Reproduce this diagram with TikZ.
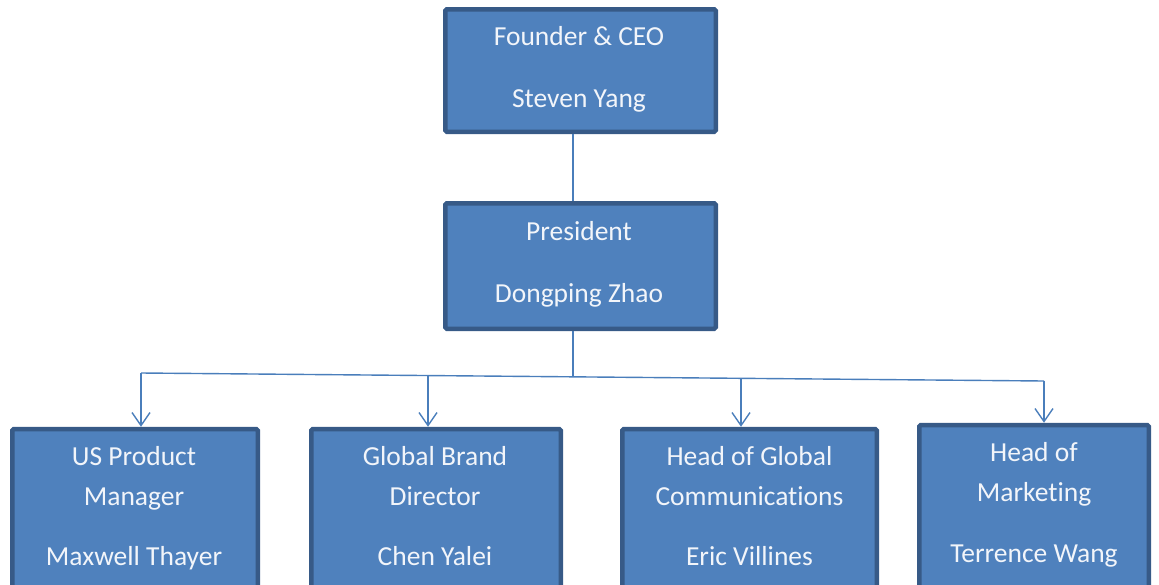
\documentclass[tikz,border=0pt]{standalone}
\usepackage{fontspec}
\setmainfont{Carlito}[Ligatures=NoCommon]
\usetikzlibrary{arrows.meta}
\definecolor{boxfill}{HTML}{4F81BD}
\definecolor{boxline}{HTML}{375A87}
\definecolor{conn}{HTML}{4A7EBB}
\definecolor{txt}{HTML}{F2F5FA}
\tikzset{
  orgbox/.style={draw=boxline, fill=boxfill, line width=4.5pt, rounded corners=1.5pt, inner sep=0pt},
  lbl/.style={text=txt, font=\fontsize{27.5}{30}\selectfont, inner sep=0pt, anchor=base},
  link/.style={draw=conn, line width=1.4pt},
  arr/.style={link, -{Straight Barb[length=13pt,width=18pt,line width=1.4pt]}}
}
\begin{document}
\begin{tikzpicture}[x=1pt,y=-1pt]
\useasboundingbox (0,0) rectangle (1159,584);
\clip (0,0) rectangle (1159,584);
% boxes
\node[orgbox, minimum width=270.5pt, minimum height=122.5pt] (ceo) at (580.5,70.5) {};
\node[orgbox, minimum width=270.5pt, minimum height=125.5pt] (pres) at (580.5,266) {};
\node[orgbox, minimum width=245.5pt, minimum height=196pt] (us) at (135,527) {};
\node[orgbox, minimum width=249.5pt, minimum height=196pt] (gb) at (436,527) {};
\node[orgbox, minimum width=254.5pt, minimum height=196pt] (hg) at (749.5,527) {};
\node[orgbox, minimum width=229.5pt, minimum height=196pt] (hm) at (1034,523) {};
% texts
\node[lbl] (ceo1) at (579,45) {Founder \& CEO};
\node[lbl] (ceo2) at (579,107) {Steven Yang};
\node[lbl] (pres1) at (579,240) {President};
\node[lbl] (pres2) at (579,302) {Dongping Zhao};
\node[lbl] (us1) at (134,465) {US Product};
\node[lbl] (us2) at (134,505) {Manager};
\node[lbl] (us3) at (134,565) {Maxwell Thayer};
\node[lbl] (gb1) at (435,465) {Global Brand};
\node[lbl] (gb2) at (435,505) {Director};
\node[lbl] (gb3) at (435,565) {Chen Yalei};
\node[lbl] (hg1) at (749.5,465) {Head of Global};
\node[lbl] (hg2) at (749.5,505) {Communications};
\node[lbl] (hg3) at (749.5,565) {Eric Villines};
\node[lbl] (hm1) at (1034,461) {Head of};
\node[lbl] (hm2) at (1034,501) {Marketing};
\node[lbl] (hm3) at (1034,562) {Terrence Wang};
% bus coordinates
\coordinate (bL) at (141,373);
\coordinate (bR) at (1044,381);
\coordinate (bP) at (573,376.8);
\coordinate (b2) at (428,375.5);
\coordinate (b3) at (741,378.3);
% connectors
\draw[link] (ceo.south -| bP) -- (pres.north -| bP);
\draw[link] (pres.south -| bP) -- (bP);
\draw[link] (bL) -- (bR);
\draw[arr] (bL) -- (bL |- us.north);
\draw[arr] (b2) -- (b2 |- gb.north);
\draw[arr] (b3) -- (b3 |- hg.north);
\draw[arr] (bR) -- (bR |- hm.north);
\end{tikzpicture}
\end{document}
